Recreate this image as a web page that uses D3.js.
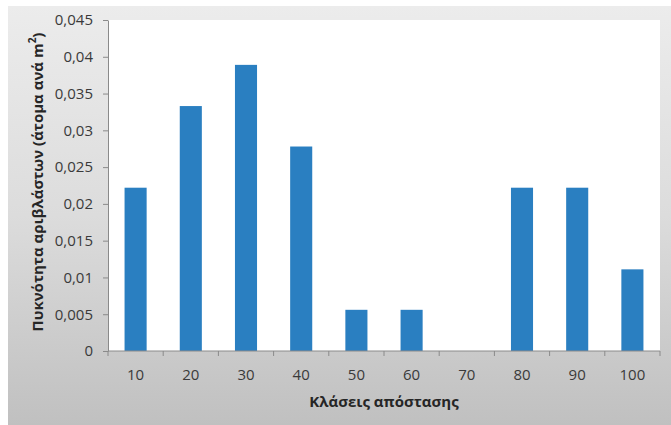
<!DOCTYPE html>
<html>
<head>
<meta charset="utf-8">
<script src="https://cdn.jsdelivr.net/npm/d3@7"></script>
<style>
  body { margin: 0; background: #fff; }
  svg { display: block; font-family: "Open Sans", sans-serif; }
</style>
</head>
<body>
<svg id="chart" width="671" height="425"></svg>
<script>
const categories = ["10", "20", "30", "40", "50", "60", "70", "80", "90", "100"];
const density = [0.0222, 0.0333, 0.0389, 0.0278, 0.0056, 0.0056, 0, 0.0222, 0.0222, 0.0111];
const yTicks = [0, 0.005, 0.01, 0.015, 0.02, 0.025, 0.03, 0.035, 0.04, 0.045];
const xTitle = "Κλάσεις απόστασης";

const margin = { top: 20, right: 11, bottom: 74, left: 108 };
const width = 671, height = 425;

const svg = d3.select("#chart");

// background frame with gradient
const defs = svg.append("defs");
const grad = defs.append("linearGradient")
  .attr("id", "bg")
  .attr("x1", 0).attr("y1", 0).attr("x2", 0).attr("y2", 1);
grad.append("stop").attr("offset", "0%").attr("stop-color", "#ececec");
grad.append("stop").attr("offset", "50%").attr("stop-color", "#dcdcdc");
grad.append("stop").attr("offset", "100%").attr("stop-color", "#c0c0c0");

svg.append("rect")
  .attr("x", 8).attr("y", 6)
  .attr("width", width - 8).attr("height", height - 6)
  .attr("fill", "url(#bg)");

// plot area
svg.append("rect")
  .attr("x", margin.left).attr("y", margin.top)
  .attr("width", width - margin.left - margin.right)
  .attr("height", height - margin.top - margin.bottom)
  .attr("fill", "#ffffff");

// x scale
const x = d3.scaleBand()
  .domain(categories)
  .range([margin.left, width - margin.right])
  .paddingInner(0.6)
  .paddingOuter(0.3);

// y scale
const y = d3.scaleLinear()
  .domain([0, 0.045])
  .range([height - margin.bottom, margin.top]);

const fmt = d => d3.format("")(d).replace(".", ",");

// bars
svg.append("g")
  .attr("fill", "#2a7fc1")
  .selectAll("rect")
  .data(density)
  .join("rect")
  .attr("x", (d, i) => x(categories[i]))
  .attr("y", d => y(d))
  .attr("width", x.bandwidth())
  .attr("height", d => y(0) - y(d));

// y axis
const yAxis = svg.append("g")
  .attr("transform", "translate(" + margin.left + ",0)")
  .call(d3.axisLeft(y).tickValues(yTicks).tickFormat(fmt).tickSize(5).tickSizeOuter(0).tickPadding(10));
yAxis.select(".domain").attr("stroke", "#8a8a8a");
yAxis.selectAll(".tick line").attr("stroke", "#8a8a8a");
yAxis.selectAll("text")
  .attr("font-size", 15)
  .attr("font-family", "Open Sans, sans-serif")
  .attr("fill", "#3a3a3a");

// x axis, ticks at category boundaries
const step = x.step();
const xAxisG = svg.append("g")
  .attr("transform", "translate(0," + y(0) + ")");
xAxisG.append("line")
  .attr("x1", margin.left).attr("x2", width - margin.right)
  .attr("stroke", "#8a8a8a");
xAxisG.selectAll(".tk")
  .data(d3.range(categories.length + 1))
  .join("line")
  .attr("class", "tk")
  .attr("x1", i => x.range()[0] + i * step)
  .attr("x2", i => x.range()[0] + i * step)
  .attr("y1", 0).attr("y2", 5)
  .attr("stroke", "#8a8a8a");
xAxisG.selectAll(".lbl")
  .data(categories)
  .join("text")
  .attr("class", "lbl")
  .attr("x", d => x(d) + x.bandwidth() / 2)
  .attr("y", 29)
  .attr("text-anchor", "middle")
  .attr("font-size", 15)
  .attr("fill", "#3a3a3a")
  .text(d => d);

// axis titles
svg.append("text")
  .attr("x", (margin.left + width - margin.right) / 2)
  .attr("y", 407)
  .attr("text-anchor", "middle")
  .attr("font-size", 15)
  .attr("font-weight", "bold")
  .attr("fill", "#262626")
  .text(xTitle);

const yTitle = svg.append("text")
  .attr("transform", "translate(43,182) rotate(-90)")
  .attr("text-anchor", "middle")
  .attr("font-size", 15)
  .attr("font-weight", "bold")
  .attr("fill", "#262626");
yTitle.append("tspan").text("Πυκνότητα αριβλάστων (άτομα ανά m");
yTitle.append("tspan").attr("baseline-shift", "super").attr("font-size", 10).text("2");
yTitle.append("tspan").text(")");
</script>
</body>
</html>
